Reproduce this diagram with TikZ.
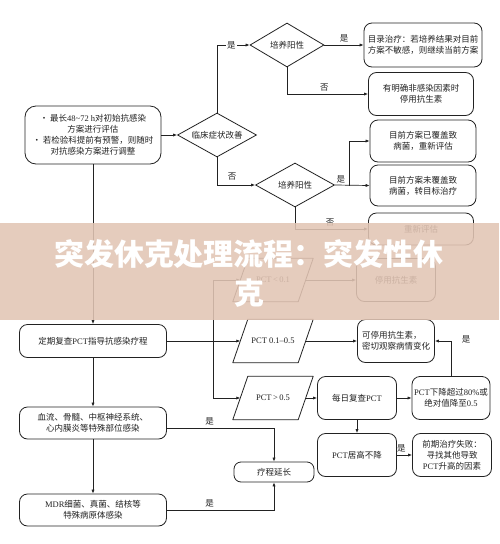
\documentclass[tikz,border=0pt]{standalone}
\usepackage{fontspec}
\setmainfont{Liberation Serif}
\newfontfamily\cjk{Noto Sans CJK SC}
\usetikzlibrary{shapes.geometric,arrows.meta}
\newcommand\la[1]{{\rmfamily #1}}
\newcommand\paraframe[1]{\draw[shp] ([xshift=7.5pt]#1.north west) -- ([xshift=7.5pt]#1.north east) -- ([xshift=-7.5pt]#1.south east) -- ([xshift=-7.5pt]#1.south west) -- cycle;}
\definecolor{inkc}{HTML}{222222}
\definecolor{bandc}{HTML}{E2C5B4}
\begin{document}
\begin{tikzpicture}[x=1pt,y=-1pt,
  txt/.style={font=\cjk\fontsize{8.5}{11}\selectfont, text=inkc},
  box/.style={txt, draw=inkc, line width=0.8pt, rounded corners=8pt, align=center, inner sep=2pt},
  dia/.style={txt, draw=inkc, line width=0.8pt, diamond, aspect=1.8, inner sep=0pt},
  para/.style={txt, minimum width=65pt, minimum height=43pt, inner sep=0pt},
  shp/.style={draw=inkc, line width=0.8pt, line join=round},
  arr/.style={draw=inkc, line width=0.7pt, -{Latex[length=4pt,width=3.2pt]}},
  ln/.style={draw=inkc, line width=0.7pt},
  lbl/.style={txt, inner sep=1pt}
]
\useasboundingbox (0,0) rectangle (499,544);
\fill[white] (0,0) rectangle (499,544);

% left column
\node[box, minimum width=136pt, minimum height=58pt, rounded corners=11pt] (b1) at (93,135)
  {• 最长\la{48\textasciitilde 72 h}对初始抗感染\\方案进行评估\\• 若检验科提前有预警，则随时\\对抗感染方案进行调整};
\node[box, minimum width=147pt, minimum height=33pt] (L2) at (93,341) {定期复查\la{PCT}指导抗感染疗程};
\node[box, minimum width=147pt, minimum height=32pt] (L3) at (93,423) {血流、骨髓、中枢神经系统、\\心内膜炎等特殊部位感染};
\node[box, minimum width=147pt, minimum height=32pt] (L4) at (93,510) {\la{MDR}细菌、真菌、结核等\\特殊病原体感染};

% diamonds
\node[dia, minimum width=79pt, minimum height=44pt] (d1) at (217,135) {临床症状改善};
\node[dia, minimum width=74pt, minimum height=44pt] (d2) at (287,45) {培养阳性};
\node[dia, minimum width=79pt, minimum height=44pt] (d3) at (295,185) {培养阳性};

% right boxes top
\node[box, minimum width=118pt, minimum height=44pt] (r1) at (423,45) {目录治疗：若培养结果对目前\\方案不敏感，则继续当前方案};
\node[box, minimum width=105pt, minimum height=43pt] (r2) at (421,94) {有明确非感染因素时\\停用抗生素};
\node[box, minimum width=106pt, minimum height=42pt] (r3) at (423,141) {目前方案已覆盖致\\病菌，重新评估};
\node[box, minimum width=106pt, minimum height=41pt] (r4) at (423,185.5) {目前方案未覆盖致\\病菌，转目标治疗};
\node[box, minimum width=105pt, minimum height=32pt] (r5) at (421,229) {重新评估};
\node[box, minimum width=79pt, minimum height=43pt] (r6) at (396,280) {停用抗生素};

% PCT parallelograms
\node[para] (p1) at (273,280) {\la{PCT\,<\,0.1}};
\node[para] (p2) at (273,341) {\la{PCT 0.1–0.5}};
\node[para] (p3) at (273,398) {\la{PCT\,>\,0.5}};
\paraframe{p1}
\paraframe{p2}
\paraframe{p3}

\node[box, minimum width=77pt, minimum height=43pt, align=left] (c1) at (396,341) {可停用抗生素，\\密切观察病情变化};
\node[box, minimum width=79pt, minimum height=43pt] (e1) at (357,398) {每日复查\la{PCT}};
\node[box, minimum width=78pt, minimum height=43pt] (e2) at (451,398) {\la{PCT}下降超过\la{80\%}或\\绝对值降至\la{0.5}};
\node[box, minimum width=79pt, minimum height=43pt] (f1) at (357,455) {\la{PCT}居高不降};
\node[box, minimum width=79pt, minimum height=43pt] (f2) at (452,455) {前期治疗失败：\\寻找其他导致\\\la{PCT}升高的因素};
\node[box, minimum width=80pt, minimum height=20pt, rounded corners=7pt] (g1) at (274,472) {疗程延长};

% connectors top part
\draw[arr] (b1.east) -- (d1.west);
\draw[arr] (d1.north) |- (d2.west) node[lbl, pos=0.72, fill=white] {是};
\draw[arr] (d2.east) -- (r1.west) node[lbl, midway, above=1pt] {是};
\draw[arr] (d2.south) |- (r2.west) node[lbl, pos=0.73, above=1pt] {否};
\draw[arr] (d1.south) |- (d3.west) node[lbl, pos=0.7, above=3pt] {否};
\draw[arr] (d3.east) -- (r4.west) node[lbl, pos=0.17, above=1pt] {是};
\coordinate (k) at (349,185.5);
\draw[arr] (k) |- (r3.west);
\draw[arr] (d3.south) |- (r5.west) node[lbl, pos=0.74, above=1pt] {否};

% left column flow
\draw[arr] (b1.south) -- (L2.north);
\draw[arr] (L2.south) -- (L3.north);
\draw[arr] (L3.south) -- (L4.north);

% PCT branching
\coordinate (j1) at (213,280);
\coordinate (j3) at (213,398);
\draw[arr] (L2.east) -- (p2.west);
\draw[ln] (j1) -- (j3);
\draw[arr] (j1) -- (p1.west);
\draw[arr] (j3) -- (p3.west);
\draw[arr] (p1.east) -- (r6.west);
\draw[arr] (p2.east) -- (c1.west);
\draw[arr] (p3.east) -- (e1.west);
\draw[arr] (e1.east) -- (e2.west);
\draw[arr] (e2.north) |- (c1.east);
\node[lbl] (ly) at (466,339) {是};
\draw[arr] (e1.south) -- (f1.north);
\draw[arr] (f1.east) -- (f2.west) node[lbl, pos=0.3, above=1pt] {是};

% course extension
\draw[arr] ([yshift=-5pt]L3.east) -| (g1.north) node[lbl, pos=0.2, above=1pt] {是};
\draw[arr] (L4.east) -| (g1.south) node[lbl, pos=0.2, above=1pt] {是};

% title band
\fill[bandc, opacity=0.88] (0,223) rectangle (499,320);
\node[font=\cjk\bfseries\fontsize{30}{36}\selectfont, text=white] (t1) at (249,254) {突发休克处理流程：突发性休};
\node[font=\cjk\bfseries\fontsize{30}{36}\selectfont, text=white] (t2) at (249,293) {克};
\end{tikzpicture}
\end{document}
